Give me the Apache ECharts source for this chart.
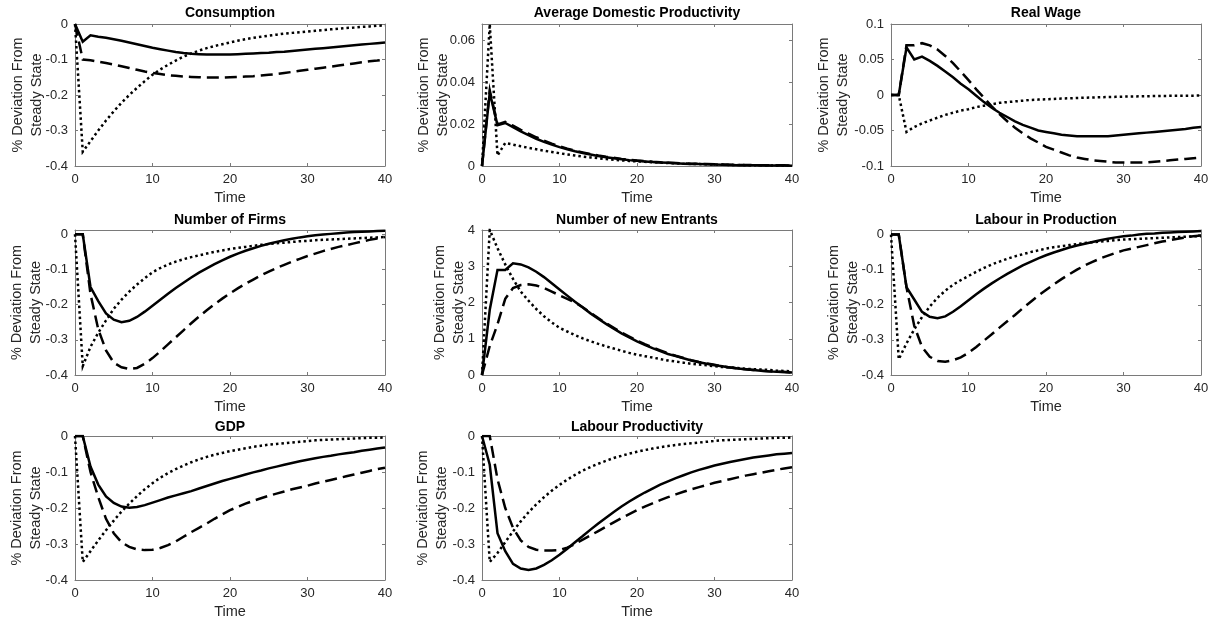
<!DOCTYPE html>
<html><head><meta charset="utf-8">
<script src="https://cdn.jsdelivr.net/npm/echarts@6/dist/echarts.min.js"></script>
<style>html,body{margin:0;padding:0;background:#fff}#c{width:1214px;height:622px}</style>
</head><body><div id="c"></div>
<script>
const time = [0,1,2,3,4,5,6,7,8,9,10,11,12,13,14,15,16,17,18,19,20,21,22,23,24,25,26,27,28,29,30,31,32,33,34,35,36,37,38,39,40];

const consSolid = [0,-0.05,-0.032,-0.036,-0.039,-0.043,-0.047,-0.052,-0.057,-0.062,
 -0.067,-0.071,-0.075,-0.079,-0.082,-0.084,-0.085,-0.086,-0.086,-0.086,
 -0.086,-0.085,-0.084,-0.083,-0.082,-0.081,-0.079,-0.078,-0.076,-0.074,
 -0.072,-0.07,-0.068,-0.066,-0.064,-0.062,-0.06,-0.058,-0.056,-0.054,-0.052];
const consDashed = [0,-0.1,-0.102,-0.106,-0.11,-0.114,-0.119,-0.124,-0.129,-0.134,
 -0.138,-0.141,-0.144,-0.146,-0.148,-0.149,-0.15,-0.151,-0.151,-0.151,
 -0.15,-0.149,-0.148,-0.147,-0.145,-0.143,-0.141,-0.138,-0.135,-0.132,
 -0.129,-0.126,-0.123,-0.12,-0.117,-0.114,-0.111,-0.108,-0.105,-0.103,-0.1];
const consDotted = [0,-0.36,-0.33,-0.3,-0.272,-0.246,-0.222,-0.2,-0.18,-0.161,
 -0.143,-0.128,-0.115,-0.103,-0.092,-0.083,-0.075,-0.068,-0.062,-0.057,
 -0.052,-0.047,-0.043,-0.039,-0.036,-0.033,-0.03,-0.027,-0.025,-0.023,
 -0.021,-0.019,-0.017,-0.015,-0.013,-0.011,-0.01,-0.008,-0.007,-0.005,-0.004];

const adpSolid = [0,0.035,0.0195,0.0205,0.0185,0.0165,0.0147,0.013,0.0115,0.0102,
 0.009,0.008,0.007,0.0062,0.0055,0.0048,0.0042,0.0037,0.0032,0.0028,
 0.0025,0.0022,0.0019,0.0017,0.0015,0.0013,0.0011,0.001,0.0009,0.0008,
 0.0007,0.0006,0.0005,0.0004,0.0004,0.0003,0.0003,0.0002,0.0002,0.0002,0.0001];
const adpDashed = [0,0.036,0.0198,0.021,0.0192,0.0172,0.0154,0.0137,0.0121,0.0107,
 0.0094,0.0083,0.0073,0.0065,0.0057,0.005,0.0044,0.0039,0.0034,0.003,
 0.0026,0.0023,0.002,0.0018,0.0016,0.0014,0.0012,0.0011,0.001,0.0009,
 0.0008,0.0007,0.0006,0.0005,0.0005,0.0004,0.0004,0.0003,0.0003,0.0003,0.0002];
const adpDotted = [0,0.0677,0.005,0.011,0.0102,0.0094,0.0087,0.008,0.0073,0.0067,
 0.0061,0.0055,0.005,0.0045,0.0041,0.0037,0.0033,0.003,0.0027,0.0024,
 0.0022,0.002,0.0018,0.0016,0.0014,0.0013,0.0011,0.001,0.0009,0.0008,
 0.0007,0.0006,0.0005,0.0005,0.0004,0.0004,0.0003,0.0003,0.0002,0.0002,0.0002];

const wageSolid = [0,0,0.067,0.05,0.054,0.048,0.041,0.033,0.025,0.016,
 0.008,-0.001,-0.01,-0.018,-0.025,-0.031,-0.037,-0.042,-0.046,-0.05,
 -0.052,-0.054,-0.056,-0.057,-0.058,-0.058,-0.058,-0.058,-0.058,-0.057,
 -0.056,-0.055,-0.054,-0.053,-0.052,-0.051,-0.05,-0.049,-0.048,-0.046,-0.045];
const wageDashed = [0,0,0.07,0.07,0.073,0.07,0.064,0.055,0.045,0.033,
 0.021,0.008,-0.004,-0.016,-0.027,-0.037,-0.046,-0.054,-0.061,-0.067,
 -0.073,-0.077,-0.081,-0.085,-0.088,-0.09,-0.092,-0.093,-0.094,-0.095,
 -0.095,-0.095,-0.095,-0.095,-0.094,-0.093,-0.092,-0.091,-0.09,-0.089,-0.088];
const wageDotted = [0,0,-0.052,-0.045,-0.04,-0.036,-0.032,-0.028,-0.025,-0.022,
 -0.02,-0.017,-0.015,-0.013,-0.011,-0.01,-0.009,-0.008,-0.007,-0.0065,
 -0.006,-0.0055,-0.005,-0.0046,-0.0042,-0.0038,-0.0035,-0.0032,-0.0029,-0.0026,
 -0.0023,-0.0021,-0.0019,-0.0017,-0.0015,-0.0013,-0.0012,-0.0011,-0.001,-0.0009,-0.0008];

const firmsSolid = [0,0,-0.15,-0.19,-0.225,-0.243,-0.25,-0.246,-0.235,-0.22,
 -0.203,-0.186,-0.169,-0.153,-0.138,-0.123,-0.109,-0.097,-0.085,-0.074,
 -0.064,-0.055,-0.047,-0.04,-0.033,-0.027,-0.022,-0.017,-0.013,-0.009,
 -0.006,-0.003,-0.001,0.001,0.003,0.005,0.006,0.007,0.008,0.009,0.01];
const firmsDashed = [0,0,-0.17,-0.27,-0.33,-0.365,-0.378,-0.383,-0.38,-0.368,
 -0.352,-0.333,-0.313,-0.293,-0.273,-0.253,-0.234,-0.216,-0.199,-0.183,
 -0.168,-0.154,-0.141,-0.129,-0.117,-0.106,-0.096,-0.087,-0.078,-0.07,
 -0.062,-0.055,-0.048,-0.042,-0.036,-0.031,-0.026,-0.021,-0.016,-0.012,-0.008];
const firmsDotted = [0,-0.375,-0.32,-0.28,-0.245,-0.212,-0.186,-0.163,-0.143,-0.125,
 -0.108,-0.096,-0.086,-0.078,-0.071,-0.065,-0.06,-0.055,-0.05,-0.046,
 -0.042,-0.039,-0.036,-0.033,-0.03,-0.028,-0.026,-0.024,-0.022,-0.02,
 -0.019,-0.017,-0.016,-0.015,-0.014,-0.013,-0.012,-0.011,-0.01,-0.009,-0.008];

const entSolid = [0,1.8,2.9,2.9,3.08,3.05,2.97,2.85,2.7,2.53,
 2.36,2.19,2.02,1.86,1.7,1.55,1.41,1.28,1.15,1.04,
 0.93,0.83,0.74,0.66,0.58,0.52,0.46,0.4,0.35,0.31,
 0.27,0.24,0.21,0.18,0.16,0.14,0.12,0.1,0.09,0.08,0.07];
const entDashed = [0,0.8,1.4,2.1,2.4,2.48,2.5,2.47,2.4,2.3,
 2.2,2.1,2.0,1.87,1.72,1.57,1.43,1.3,1.17,1.06,
 0.95,0.85,0.76,0.68,0.6,0.53,0.47,0.41,0.36,0.32,
 0.28,0.24,0.21,0.18,0.16,0.14,0.12,0.1,0.09,0.08,0.07];
const entDotted = [0,4.0,3.5,3.05,2.65,2.3,2.05,1.82,1.62,1.45,
 1.3,1.2,1.1,1.01,0.93,0.86,0.79,0.73,0.67,0.61,
 0.56,0.52,0.48,0.44,0.4,0.37,0.34,0.31,0.29,0.27,
 0.24,0.22,0.21,0.19,0.17,0.16,0.15,0.14,0.12,0.11,0.1];

const labSolid = [0,0,-0.15,-0.185,-0.22,-0.234,-0.238,-0.233,-0.22,-0.204,
 -0.187,-0.17,-0.154,-0.139,-0.125,-0.112,-0.1,-0.088,-0.078,-0.068,
 -0.059,-0.051,-0.044,-0.037,-0.031,-0.026,-0.021,-0.016,-0.012,-0.008,
 -0.005,-0.003,0.0,0.002,0.003,0.005,0.006,0.007,0.008,0.009,0.01];
const labDashed = [0,0,-0.15,-0.26,-0.32,-0.348,-0.36,-0.362,-0.358,-0.35,
 -0.337,-0.32,-0.302,-0.284,-0.265,-0.247,-0.229,-0.21,-0.192,-0.174,
 -0.158,-0.142,-0.127,-0.113,-0.1,-0.088,-0.078,-0.068,-0.06,-0.052,
 -0.045,-0.04,-0.035,-0.03,-0.025,-0.02,-0.016,-0.012,-0.008,-0.005,-0.003];
const labDotted = [0,-0.355,-0.31,-0.27,-0.235,-0.205,-0.18,-0.16,-0.143,-0.13,
 -0.118,-0.106,-0.095,-0.085,-0.077,-0.069,-0.062,-0.056,-0.05,-0.045,
 -0.04,-0.036,-0.033,-0.03,-0.027,-0.024,-0.022,-0.02,-0.018,-0.016,
 -0.014,-0.013,-0.012,-0.011,-0.01,-0.009,-0.008,-0.007,-0.006,-0.005,-0.005];

const gdpSolid = [0,0,-0.085,-0.135,-0.168,-0.186,-0.196,-0.199,-0.197,-0.192,
 -0.185,-0.178,-0.171,-0.165,-0.159,-0.153,-0.146,-0.139,-0.132,-0.125,
 -0.119,-0.113,-0.107,-0.101,-0.096,-0.09,-0.085,-0.08,-0.075,-0.07,
 -0.066,-0.062,-0.058,-0.055,-0.051,-0.048,-0.045,-0.041,-0.038,-0.035,-0.032];
const gdpDashed = [0,0,-0.1,-0.17,-0.23,-0.27,-0.295,-0.308,-0.315,-0.317,
 -0.316,-0.311,-0.303,-0.293,-0.28,-0.267,-0.255,-0.243,-0.23,-0.218,
 -0.206,-0.197,-0.188,-0.18,-0.173,-0.166,-0.16,-0.154,-0.148,-0.143,
 -0.138,-0.132,-0.127,-0.122,-0.117,-0.112,-0.107,-0.102,-0.097,-0.092,-0.088];
const gdpDotted = [0,-0.35,-0.32,-0.29,-0.262,-0.235,-0.21,-0.188,-0.167,-0.148,
 -0.131,-0.116,-0.103,-0.092,-0.082,-0.073,-0.065,-0.058,-0.052,-0.047,
 -0.042,-0.038,-0.034,-0.03,-0.027,-0.024,-0.022,-0.02,-0.018,-0.016,
 -0.014,-0.012,-0.011,-0.01,-0.009,-0.008,-0.007,-0.006,-0.005,-0.005,-0.004];

const lpSolid = [0,-0.08,-0.27,-0.32,-0.355,-0.368,-0.372,-0.368,-0.358,-0.345,
 -0.33,-0.313,-0.295,-0.278,-0.26,-0.243,-0.227,-0.211,-0.196,-0.182,
 -0.169,-0.157,-0.146,-0.135,-0.126,-0.117,-0.109,-0.101,-0.094,-0.088,
 -0.082,-0.077,-0.072,-0.068,-0.064,-0.06,-0.057,-0.054,-0.051,-0.049,-0.047];
const lpDashed = [0,0,-0.12,-0.2,-0.255,-0.29,-0.308,-0.316,-0.318,-0.318,
 -0.317,-0.31,-0.3,-0.288,-0.276,-0.264,-0.252,-0.24,-0.228,-0.217,
 -0.206,-0.196,-0.187,-0.178,-0.17,-0.162,-0.155,-0.148,-0.142,-0.136,
 -0.13,-0.125,-0.12,-0.115,-0.11,-0.106,-0.102,-0.098,-0.094,-0.09,-0.087];
const lpDotted = [0,-0.35,-0.325,-0.295,-0.265,-0.237,-0.212,-0.19,-0.17,-0.152,
 -0.136,-0.121,-0.108,-0.096,-0.086,-0.077,-0.069,-0.061,-0.055,-0.049,
 -0.044,-0.039,-0.035,-0.031,-0.028,-0.025,-0.022,-0.02,-0.018,-0.016,
 -0.014,-0.012,-0.011,-0.01,-0.009,-0.008,-0.007,-0.006,-0.005,-0.005,-0.004];

const titles = ['Consumption','Average Domestic Productivity','Real Wage','Number of Firms','Number of new Entrants','Labour in Production','GDP','Labour Productivity'];
const yMin  = [-0.4, 0, -0.1, -0.4, 0, -0.4, -0.4, -0.4];
const yMax  = [0, 0.0677, 0.1, 0.012, 4, 0.013, 0, 0];
const yStep = [0.1, 0.02, 0.05, 0.1, 1, 0.1, 0.1, 0.1];
const xMin = 0, xMax = 40, xStep = 10;
const yName = '% Deviation From\nSteady State';
const xName = 'Time';

const solidSeries  = [consSolid, adpSolid, wageSolid, firmsSolid, entSolid, labSolid, gdpSolid, lpSolid];
const dashedSeries = [consDashed, adpDashed, wageDashed, firmsDashed, entDashed, labDashed, gdpDashed, lpDashed];
const dottedSeries = [consDotted, adpDotted, wageDotted, firmsDotted, entDotted, labDotted, gdpDotted, lpDotted];

// layout
const colLeft = [75, 482, 891];
const rowTop = [24, 230, 436];
const rowH = [142, 145, 144];
const plotW = 310;
const titleTop = [6, 213, 420];
const nameGaps = [29, 30, 39, 30, 14, 29, 30, 31];

const FONT = "'Liberation Sans', Arial, Helvetica, sans-serif";
const BOX = '#7a7a7a';
const TXT = '#262626';

function fmt(step) {
  return function (v) {
    const k = v / step;
    if (Math.abs(k - Math.round(k)) > 1e-6) return '';
    let s = parseFloat((Math.round(k) * step).toFixed(6)).toString();
    if (s === '-0') s = '0';
    return s;
  };
}

const grid = [], xAxis = [], yAxis = [], series = [], title = [];
for (let i = 0; i < 8; i++) {
  const r = Math.floor(i / 3), c = i % 3;
  grid.push({ left: colLeft[c], top: rowTop[r], width: plotW, height: rowH[r], show: false });
  title.push({
    text: titles[i], left: colLeft[c] + plotW / 2, top: titleTop[r], textAlign: 'center', padding: 0,
    textStyle: { fontSize: 14, fontWeight: 'bold', color: '#000', fontFamily: FONT }
  });
  const lineStyle = { color: BOX, width: 1 };
  xAxis.push({
    type: 'value', gridIndex: i, min: xMin, max: xMax, interval: xStep, position: 'bottom',
    axisLine: { show: true, onZero: false, lineStyle }, axisTick: { show: true, inside: true, length: 3, lineStyle },
    axisLabel: { color: TXT, fontSize: 13, margin: 7, fontFamily: FONT, formatter: fmt(xStep) },
    splitLine: { show: false },
    name: xName, nameLocation: 'middle', nameGap: 24, nameMoveOverlap: false,
    nameTextStyle: { color: TXT, fontSize: 14.5, fontFamily: FONT }
  });
  xAxis.push({
    type: 'value', gridIndex: i, min: xMin, max: xMax, interval: xStep, position: 'top',
    axisLine: { show: true, onZero: false, lineStyle }, axisTick: { show: true, inside: true, length: 3, lineStyle },
    axisLabel: { show: false }, splitLine: { show: false }
  });
  yAxis.push({
    type: 'value', gridIndex: i, min: yMin[i], max: yMax[i], interval: yStep[i], position: 'left',
    axisLine: { show: true, onZero: false, lineStyle }, axisTick: { show: true, inside: true, length: 3, lineStyle },
    axisLabel: { color: TXT, fontSize: 13, margin: 7, fontFamily: FONT, formatter: fmt(yStep[i]) },
    splitLine: { show: false },
    name: yName, nameLocation: 'middle', nameRotate: 90, nameGap: nameGaps[i], nameMoveOverlap: false,
    nameTextStyle: { color: TXT, fontSize: 14.5, lineHeight: 19, fontFamily: FONT, align: 'center' }
  });
  yAxis.push({
    type: 'value', gridIndex: i, min: yMin[i], max: yMax[i], interval: yStep[i], position: 'right',
    axisLine: { show: true, onZero: false, lineStyle }, axisTick: { show: true, inside: true, length: 3, lineStyle },
    axisLabel: { show: false }, splitLine: { show: false }
  });
  const mk = (arr, type) => ({
    type: 'line', xAxisIndex: 2 * i, yAxisIndex: 2 * i, showSymbol: false, symbol: 'none',
    data: time.map((t, j) => [t, arr[j]]),
    lineStyle: { color: '#000', width: 2.5, type: type, cap: 'butt', join: 'miter' },
    silent: true, clip: true
  });
  series.push(mk(solidSeries[i], 'solid'));
  series.push(mk(dashedSeries[i], [12, 6]));
  series.push(mk(dottedSeries[i], [2.5, 3]));
}

const chart = echarts.init(document.getElementById('c'), null, { renderer: 'canvas' });
chart.setOption({ animation: false, backgroundColor: '#fff', title, grid, xAxis, yAxis, series });
</script>
</body></html>
